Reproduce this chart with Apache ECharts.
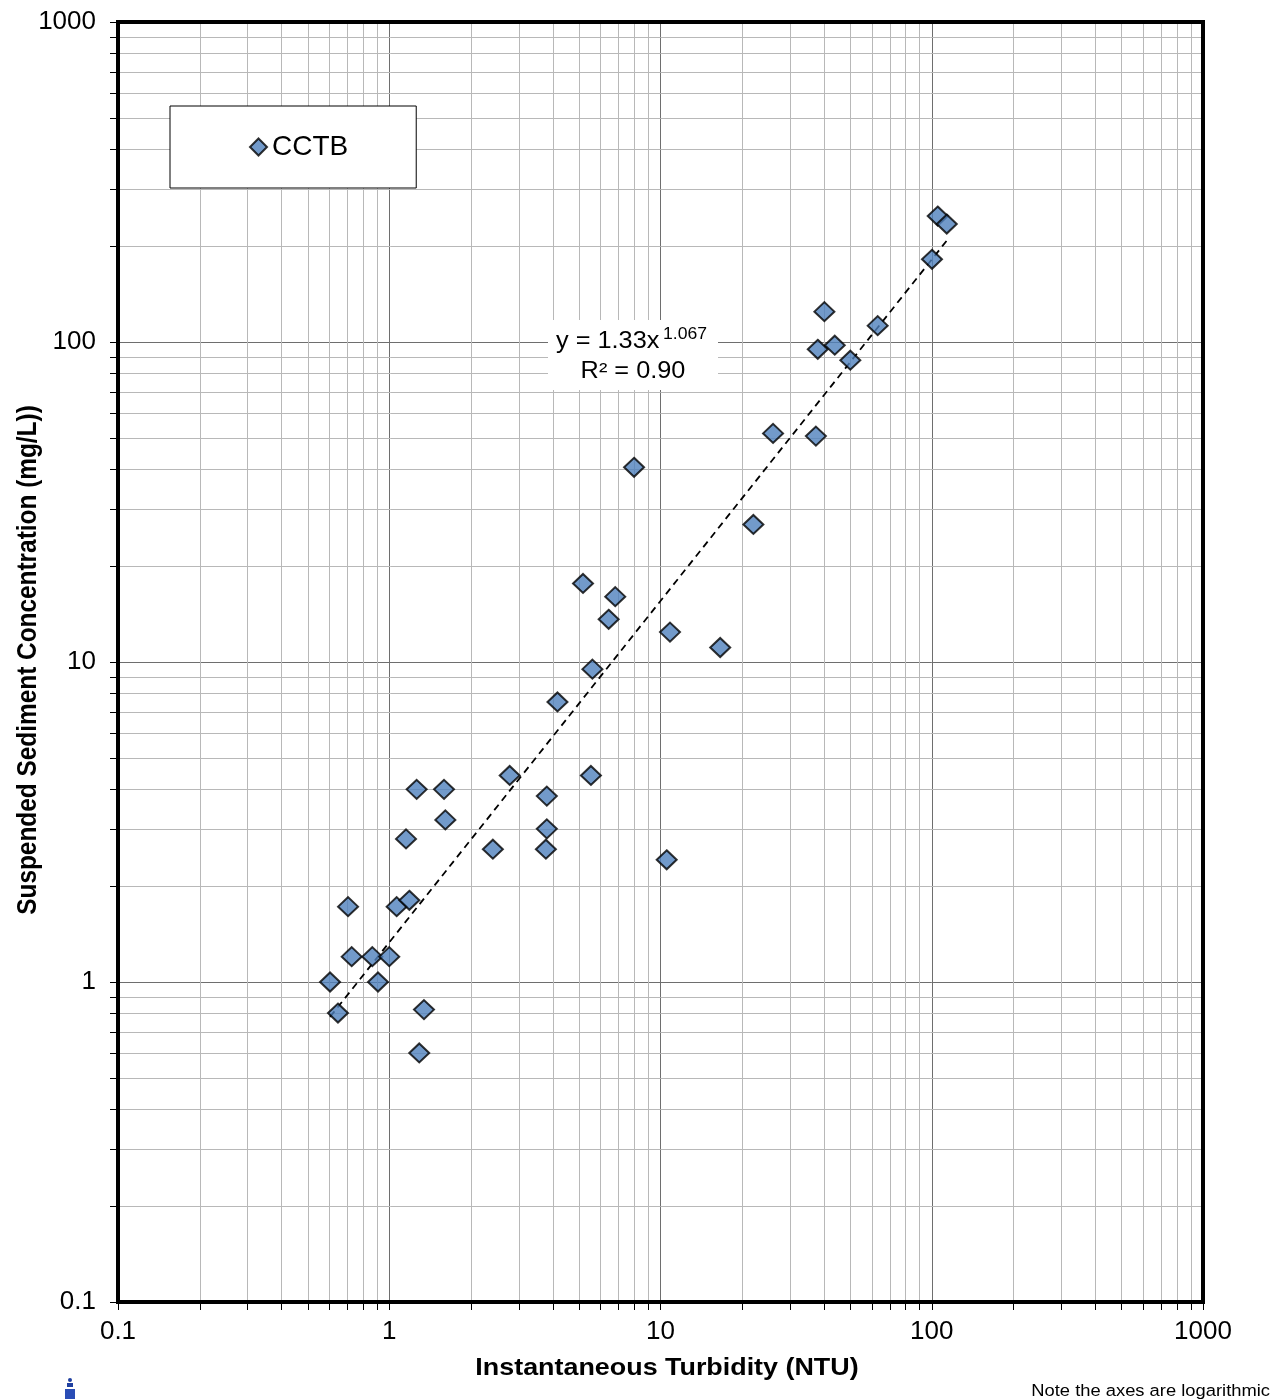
<!DOCTYPE html>
<html>
<head>
<meta charset="utf-8">
<title>Turbidity vs Suspended Sediment Concentration</title>
<script src="https://cdn.jsdelivr.net/npm/echarts@6/dist/echarts.min.js"></script>
<style>
  html, body { margin: 0; padding: 0; background: #ffffff; }
  #chart { width: 1278px; height: 1399px; }
</style>
</head>
<body>
<div id="chart"></div>
<script>
// Paired field samples: instantaneous turbidity (NTU) and suspended sediment (mg/L)
const turbidityNTU = [0.605, 0.647, 0.705, 0.727, 0.866, 0.909, 1.0, 1.065, 1.153, 1.186,
  1.262, 1.29, 1.343, 1.592, 1.61, 2.41, 2.78, 3.78, 3.81, 3.81,
  4.17, 5.18, 5.54, 5.61, 6.44, 6.81, 7.99, 10.54, 10.84, 16.6,
  22.0, 26.0, 37.4, 38.0, 40.2, 43.9, 50.1, 63.2, 100.2, 105.2, 113.6];
const sscMgL = [1.0, 0.80, 1.72, 1.2, 1.2, 1.0, 1.2, 1.72, 2.8, 1.8,
  4.0, 0.60, 0.82, 4.0, 3.21, 2.6, 4.42, 2.6, 3.81, 3.01,
  7.5, 17.6, 4.42, 9.5, 13.6, 16.0, 40.6, 2.41, 12.4, 11.1,
  26.9, 51.8, 50.8, 94.9, 124.4, 97.7, 87.7, 112.5, 181.3, 247.5, 233.7];

// Power-law fit y = a * x^b
const fitCoef = 1.33;
const fitExp = 1.067;
const fitR2Text = '0.90';

// Major (decade) ticks and minor ticks of both log axes
const decadeTicks = [0.1, 1, 10, 100, 1000];
const minorTicks = [0.2, 0.3, 0.4, 0.5, 0.6, 0.7, 0.8, 0.9,
  2, 3, 4, 5, 6, 7, 8, 9,
  20, 30, 40, 50, 60, 70, 80, 90,
  200, 300, 400, 500, 600, 700, 800, 900];

const seriesName = 'CCTB';
const FONT = '"Liberation Sans", Arial, sans-serif';

const points = turbidityNTU.map((x, i) => [x, sscMgL[i]]);
const xMin = Math.min(...turbidityNTU);
const xMax = Math.max(...turbidityNTU);
const fitLine = [xMin, xMax].map(x => [x, fitCoef * Math.pow(x, fitExp)]);

const chart = echarts.init(document.getElementById('chart'), null, { renderer: 'canvas' });

const fmt = v => String(Number(Number(v).toPrecision(6)));

// Minor grid lines plus outward minor ticks, placed through the axis scales
function minorRender(vertical) {
  return function (params, api) {
    const cs = params.coordSys;
    const p = api.coord([api.value(0), api.value(1)]);
    if (vertical) {
      const x = Math.round(p[0]) + 0.5;
      const bottom = cs.y + cs.height;
      return { type: 'group', children: [
        { type: 'line', shape: { x1: x, y1: cs.y + 2, x2: x, y2: bottom - 2 },
          style: { stroke: '#b8b8b8', lineWidth: 1 } },
        { type: 'line', shape: { x1: x, y1: bottom + 2, x2: x, y2: bottom + 8 },
          style: { stroke: '#000000', lineWidth: 1 } }
      ] };
    }
    const y = Math.round(p[1]) + 0.5;
    const right = cs.x + cs.width;
    return { type: 'group', children: [
      { type: 'line', shape: { x1: cs.x + 2, y1: y, x2: right - 2, y2: y },
        style: { stroke: '#b8b8b8', lineWidth: 1 } },
      { type: 'line', shape: { x1: cs.x - 8, y1: y, x2: cs.x - 2, y2: y },
        style: { stroke: '#000000', lineWidth: 1 } }
    ] };
  };
}

const axisCommon = {
  type: 'log',
  logBase: 10,
  min: decadeTicks[0],
  max: decadeTicks[decadeTicks.length - 1],
  axisLine: { show: false },
  axisTick: { show: true, inside: false, length: 8, lineStyle: { color: '#000', width: 1 } },
  splitLine: { show: true, lineStyle: { color: '#6e6e6e', width: 1 } },
  minorTick: { show: false },
  minorSplitLine: { show: false }
};

chart.setOption({
  animation: false,
  backgroundColor: '#ffffff',
  textStyle: { fontFamily: FONT },
  grid: {
    left: 118, right: 75, top: 22, bottom: 97,
    show: true, borderColor: '#000000', borderWidth: 4,
    backgroundColor: 'transparent', z: 3
  },
  legend: {
    data: [seriesName],
    left: 170, top: 106,
    orient: 'horizontal',
    backgroundColor: '#ffffff',
    borderColor: '#000000', borderWidth: 1, borderRadius: 0,
    padding: [27, 68, 27, 79],
    itemWidth: 17, itemHeight: 17, itemGap: 5,
    textStyle: { fontSize: 28, color: '#000', fontFamily: FONT },
    selectedMode: false,
    z: 6
  },
  xAxis: Object.assign({}, axisCommon, {
    axisLabel: { fontSize: 26, color: '#000', margin: 17, fontFamily: FONT, formatter: fmt }
  }),
  yAxis: Object.assign({}, axisCommon, {
    axisLabel: { fontSize: 26, color: '#000', margin: 22, fontFamily: FONT, formatter: fmt }
  }),
  series: [
    {
      type: 'custom', name: 'minorX', silent: true, z: 1,
      renderItem: minorRender(true),
      data: minorTicks.map(v => [v, 1])
    },
    {
      type: 'custom', name: 'minorY', silent: true, z: 1,
      renderItem: minorRender(false),
      data: minorTicks.map(v => [1, v])
    },
    {
      type: 'line', name: 'fit', silent: true, z: 4,
      data: fitLine,
      showSymbol: false, symbol: 'none',
      lineStyle: { color: '#000000', width: 1.8, type: [7, 5] }
    },
    {
      type: 'scatter', name: seriesName, z: 5,
      data: points,
      symbol: 'diamond', symbolSize: [20, 19],
      itemStyle: { color: '#4f81bd', borderColor: '#000000', borderWidth: 2 }
    }
  ],
  graphic: [
    // fit equation box
    { type: 'rect', z: 10, shape: { x: 548, y: 320, width: 170, height: 70 },
      style: { fill: '#ffffff' } },
    { type: 'text', z: 11, x: 556, y: 342, scaleX: 1.1,
      style: { text: 'y = ' + fitCoef.toFixed(2) + 'x', font: '23px ' + FONT, fill: '#000',
        align: 'left', verticalAlign: 'middle' } },
    { type: 'text', z: 11, x: 663, y: 335, scaleX: 1.1,
      style: { text: fitExp.toFixed(3), font: '16px ' + FONT, fill: '#000',
        align: 'left', verticalAlign: 'middle' } },
    { type: 'text', z: 11, x: 633, y: 372, scaleX: 1.1,
      style: { text: 'R² = ' + fitR2Text, font: '23px ' + FONT, fill: '#000',
        align: 'center', verticalAlign: 'middle' } },
    // axis titles
    { type: 'text', z: 11, x: 667, y: 1368, scaleX: 1.12,
      style: { text: 'Instantaneous Turbidity (NTU)', font: 'bold 24px ' + FONT, fill: '#000',
        align: 'center', verticalAlign: 'middle' } },
    { type: 'text', z: 11, x: 29, y: 660, rotation: Math.PI / 2, scaleY: 1.1,
      style: { text: 'Suspended Sediment Concentration (mg/L))', font: 'bold 24.4px ' + FONT, fill: '#000',
        align: 'center', verticalAlign: 'middle' } },
    // footnote
    { type: 'text', z: 11, x: 1270, y: 1391, scaleX: 1.1,
      style: { text: 'Note the axes are logarithmic', font: '16.7px ' + FONT, fill: '#000',
        align: 'right', verticalAlign: 'middle' } },
    // small agency mark at lower left
    { type: 'group', z: 11, x: 70, y: 1380, children: [
      { type: 'circle', shape: { cx: 0, cy: 0, r: 2 }, style: { fill: '#1f3fa0' } },
      { type: 'rect', shape: { x: -3, y: 3, width: 6, height: 4 }, style: { fill: '#1f3fa0' } },
      { type: 'rect', shape: { x: -5, y: 9, width: 10, height: 10 }, style: { fill: '#2a4db5' } }
    ] }
  ]
});
</script>
</body>
</html>
